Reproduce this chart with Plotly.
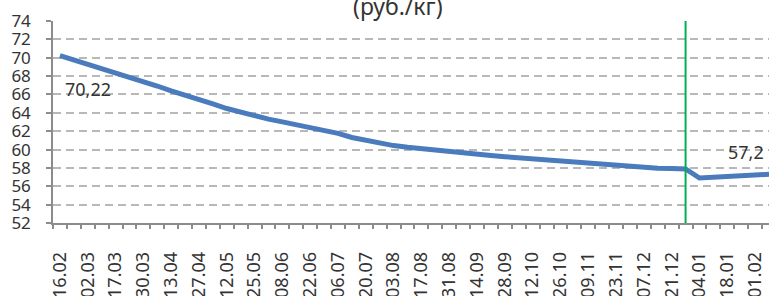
import plotly.graph_objects as go

# weekly categories (every second one is labelled)
dates = ["16.02", "23.02", "02.03", "09.03", "17.03", "24.03", "30.03", "06.04",
         "13.04", "20.04", "27.04", "05.05", "12.05", "18.05", "25.05", "01.06",
         "08.06", "15.06", "22.06", "29.06", "06.07", "13.07", "20.07", "27.07",
         "03.08", "10.08", "17.08", "24.08", "31.08", "07.09", "14.09", "21.09",
         "28.09", "05.10", "12.10", "19.10", "26.10", "02.11", "09.11", "16.11",
         "23.11", "30.11", "07.12", "14.12", "21.12", "28.12", "04.01", "11.01",
         "18.01", "25.01", "01.02", "08.02"]

prices = [70.22, 69.75, 69.31, 68.87, 68.44, 67.90, 67.40, 66.92,
          66.39, 65.87, 65.49, 64.97, 64.47, 64.07, 63.63, 63.31,
          63.01, 62.69, 62.36, 62.10, 61.76, 61.31, 60.98, 60.66,
          60.43, 60.24, 60.07, 59.92, 59.77, 59.61, 59.47, 59.35,
          59.22, 59.10, 59.00, 58.85, 58.70, 58.56, 58.44, 58.35,
          58.23, 58.10, 58.00, 57.97, 57.93, 57.88, 56.90, 56.97,
          57.02, 57.10, 57.20, 57.30]

y_ticks = list(range(52, 75, 2))
title_text = "(руб./кг)"
marker_date = "28.12"

idx = list(range(len(dates)))
label_idx = idx[::2]
label_txt = [dates[i] for i in label_idx]
boundaries = [i - 0.5 for i in idx] + [len(idx) - 0.5]

FONT = "Noto Sans"
TXT = "#333333"
AX = "#8c8c8c"
XRANGE = [-0.5, 51.0]

fig = go.Figure()
fig.add_trace(go.Scatter(
    x=idx, y=prices, mode="lines",
    line=dict(color="#4a7bbd", width=5),
    hoverinfo="skip", showlegend=False,
))
# helper trace so the tick-mark axis (category boundaries) is drawn
fig.add_trace(go.Scatter(x=[XRANGE[0]], y=[52], xaxis="x2", mode="markers",
                         marker=dict(opacity=0), hoverinfo="skip", showlegend=False))

fig.add_shape(type="line", xref="x", yref="paper",
              x0=dates.index(marker_date), x1=dates.index(marker_date), y0=0, y1=1,
              line=dict(color="#00b050", width=2))

fig.add_annotation(x=2.0, y=66.56, text="70,22", showarrow=False,
                   font=dict(family=FONT, size=18, color=TXT))
fig.add_annotation(x=49.35, y=59.7, text="57,2", showarrow=False,
                   font=dict(family=FONT, size=18, color=TXT))
fig.add_annotation(x=0.482, xref="paper", y=1.072, yref="paper", yanchor="middle",
                   text=title_text, showarrow=False,
                   font=dict(family=FONT, size=23, color=TXT))

fig.update_layout(
    width=769, height=296,
    margin=dict(l=53, r=0, t=21, b=73, autoexpand=False),
    paper_bgcolor="white", plot_bgcolor="white",
    font=dict(family=FONT, size=17, color=TXT),
    xaxis=dict(
        range=XRANGE, tickmode="array", tickvals=label_idx, ticktext=label_txt,
        tickangle=-90, ticks="", showgrid=False, zeroline=False, automargin=False,
        showline=True, linecolor=AX, linewidth=1.5,
        ticklabelstandoff=20, tickfont=dict(size=18),
    ),
    xaxis2=dict(
        range=XRANGE, overlaying="x", anchor="y", side="bottom",
        tickmode="array", tickvals=boundaries, showticklabels=False,
        ticks="outside", ticklen=5, tickwidth=1.5, tickcolor=AX,
        showgrid=False, zeroline=False, showline=False, automargin=False,
    ),
    yaxis=dict(
        range=[52, 74], tickmode="array", tickvals=y_ticks, automargin=False,
        ticks="outside", ticklen=5, tickwidth=1.5, tickcolor=AX,
        showline=True, linecolor=AX, linewidth=1.5,
        showgrid=True, gridcolor="#b8b8b8", gridwidth=1.5, griddash="8px,5px",
        zeroline=False, ticklabelstandoff=12,
    ),
)

fig.write_html("out.html", config={"displayModeBar": False},
               post_script="document.body.style.margin='0';")
